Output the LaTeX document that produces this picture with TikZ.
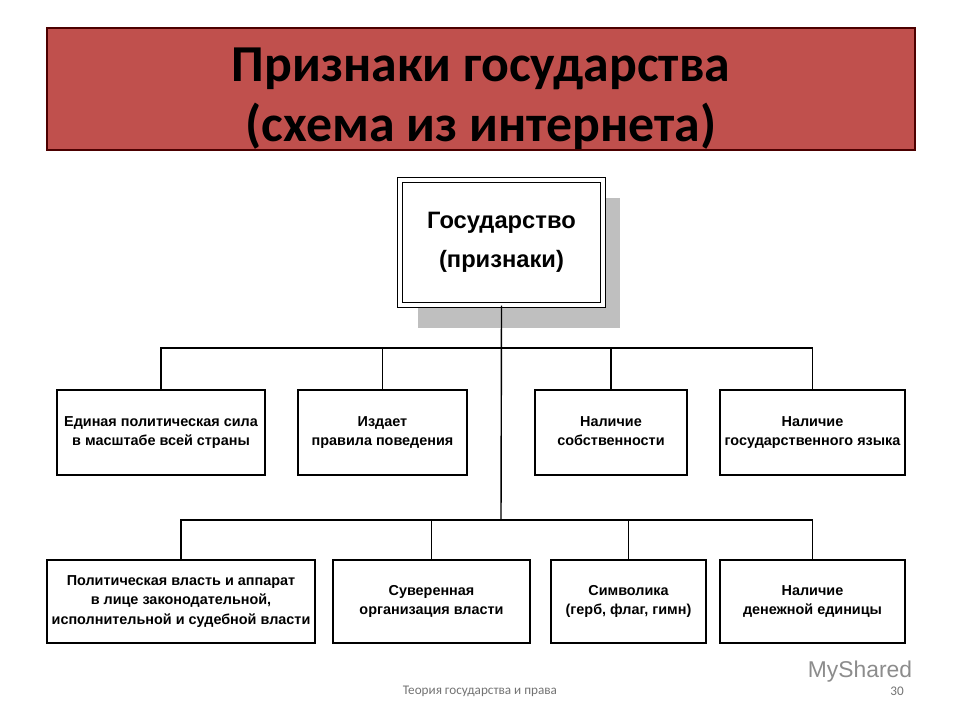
\documentclass[tikz,border=0pt]{standalone}
\usepackage{fontspec}
\setmainfont{Liberation Sans}
\newfontfamily\carlitofont{Carlito}
\begin{document}
\begin{tikzpicture}[x=0.02cm,y=-0.02cm,
  sbox/.style={draw=black,line width=0.8pt,fill=white,align=center,font=\fontsize{8.2}{11}\selectfont\bfseries,inner sep=0pt},
  conn/.style={draw=black,line width=0.8pt}]
\useasboundingbox (0,0) rectangle (960,720);
\fill[white] (0,0) rectangle (960,720);
% title
\node[draw=black!70!red,line width=0.8pt,fill={rgb,255:red,192;green,80;blue,77},minimum width=868*0.02cm,minimum height=122*0.02cm] (title) at (481,89) {};
\node[align=center,font=\carlitofont\fontsize{29.5}{34}\selectfont\bfseries] (titletext) at (481,99) {Признаки государства\\(схема из интернета)};
% main
\fill[black!25] (418,198) rectangle (620,328);
\node[draw,line width=0.8pt,double,double distance=2pt,fill=white,minimum width=203*0.02cm,minimum height=125*0.02cm,align=center,font=\fontsize{13.5}{22}\selectfont\bfseries] (main) at (501.5,242.5) {Государство\\(признаки)};
% row1
\node[sbox,minimum width=208*0.02cm,minimum height=85*0.02cm] (b1) at (161,432.5) {Единая политическая сила\\в масштабе всей страны};
\node[sbox,minimum width=169*0.02cm,minimum height=85*0.02cm] (b2) at (382.5,432.5) {Издает\\правила поведения};
\node[sbox,minimum width=152*0.02cm,minimum height=85*0.02cm] (b3) at (611,432.5) {Наличие\\собственности\vphantom{y}};
\node[sbox,minimum width=185*0.02cm,minimum height=85*0.02cm] (b4) at (812.5,432.5) {Наличие\\государственного языка};
% row2
\node[sbox,minimum width=268*0.02cm,minimum height=83*0.02cm] (c1) at (181,601.5) {Политическая власть и аппарат\\в лице законодательной,\\исполнительной и судебной власти};
\node[sbox,minimum width=197*0.02cm,minimum height=83*0.02cm] (c2) at (431.5,601.5) {Суверенная\\организация власти};
\node[sbox,minimum width=155*0.02cm,minimum height=83*0.02cm] (c3) at (628.5,601.5) {Символика\\(герб, флаг, гимн)};
\node[sbox,minimum width=185*0.02cm,minimum height=83*0.02cm] (c4) at (812.5,601.5) {Наличие\\денежной единицы};
\coordinate (j2) at (501,520);
\draw[conn] (main.south) -- (j2);
\draw[conn] (b1.north) |- (501,348) -| (b4.north);
\draw[conn] (b2.north) -- (b2.north |- 0,348);
\draw[conn] (b3.north) -- (b3.north |- 0,348);
\draw[conn] (c1.north) |- (j2) -| (c4.north);
\draw[conn] (c2.north) -- (c2.north |- j2);
\draw[conn] (c3.north) -- (c3.north |- j2);
\node[font=\carlitofont\fontsize{7.5}{9}\selectfont,text=black!55] (foot) at (480,691) {Теория государства и права};
\node[font=\carlitofont\fontsize{7.5}{9}\selectfont,text=black!55] (num) at (897,691) {30};
\node[font=\fontsize{13}{15}\selectfont,text=black!45] (wm) at (860,672) {MyShared};
\end{tikzpicture}
\end{document}
